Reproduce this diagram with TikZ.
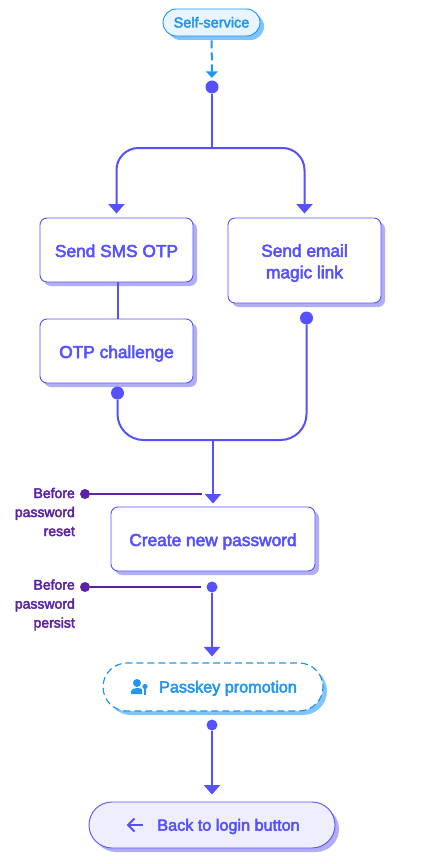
\documentclass[tikz,border=0pt]{standalone}
\usepackage{fontspec}
\setmainfont{Liberation Sans}[FakeBold=3]
\usepackage{xcolor}
\usetikzlibrary{arrows.meta,positioning,shadows,shapes.misc}
\definecolor{flowblue}{HTML}{5551FF}
\definecolor{flowshade}{HTML}{B1AFF3}
\definecolor{flowtint}{HTML}{EEEEFC}
\definecolor{skyblue}{HTML}{2196F3}
\definecolor{skyshade}{HTML}{7FC4FC}
\definecolor{skytint}{HTML}{E8F4FE}
\definecolor{hookpurple}{HTML}{5B21A6}
\newcommand{\lowered}[2]{\raisebox{-#1}[0pt][0pt]{#2}}

\begin{document}
\begin{tikzpicture}[
    x=1pt,y=-1pt,
    >={Triangle[width=16pt,length=9.5pt]},
    stepbox/.style={rectangle,draw=flowblue,fill=white,rounded corners=7pt,line width=0.9pt,
                    text=flowblue,align=center,font=\fontsize{17.3}{21.5}\selectfont,inner sep=0pt,
                    drop shadow={shadow xshift=4pt,shadow yshift=-4pt,opacity=1,fill=flowshade}},
    startpill/.style={rounded rectangle,draw=skyblue,fill=skytint,line width=0.9pt,text=skyblue,
                    font=\fontsize{14.5}{14}\selectfont,inner sep=0pt,minimum width=97pt,minimum height=27pt,
                    drop shadow={shadow xshift=4pt,shadow yshift=-4pt,opacity=1,fill=skyshade}},
    promopill/.style={rounded rectangle,draw=skyblue,fill=white,dash pattern=on 7pt off 4pt,
                    line width=1.2pt,text=skyblue,font=\fontsize{16.2}{18}\selectfont,inner sep=0pt,
                    minimum width=220pt,minimum height=48pt,
                    drop shadow={shadow xshift=4pt,shadow yshift=-4pt,opacity=1,fill=skyshade}},
    backpill/.style={rounded rectangle,draw=flowblue,fill=flowtint,line width=0.9pt,text=flowblue,
                    font=\fontsize{16.2}{18}\selectfont,inner sep=0pt,minimum width=246pt,minimum height=46pt,
                    drop shadow={shadow xshift=4pt,shadow yshift=-4pt,opacity=1,fill=flowshade}},
    bigdot/.style={circle,fill=flowblue,minimum size=13pt,inner sep=0pt},
    smalldot/.style={circle,fill=flowblue,minimum size=11pt,inner sep=0pt},
    hookdot/.style={circle,fill=hookpurple,minimum size=10pt,inner sep=0pt},
    hooklbl/.style={text=hookpurple,align=right,anchor=east,font=\fontsize{14}{19}\selectfont,inner sep=0pt},
    flow/.style={line width=2pt,flowblue},
    hook/.style={line width=2pt,hookpurple},
]
\useasboundingbox (0,0) rectangle (426,864);

% ---- start of the flow ----
\node[startpill] (selfService) at (211.5,22.5) {\lowered{5pt}{Self-service}};
\node[bigdot] (splitDot) at (212,87) {};
\coordinate (splitPt) at (212,148);
\draw[line width=2pt,skyblue,dash pattern=on 8pt off 4pt,->,shorten <=4pt,shorten >=2.5pt,
      >={Triangle[width=12pt,length=6.5pt]}] (selfService) -- (splitDot);

% ---- two ways to send the code ----
\node[stepbox,minimum width=153pt,minimum height=64pt] (sendSms) at (116.5,250) {\lowered{7pt}{Send SMS OTP}};
\node[stepbox,minimum width=153pt,minimum height=64pt] (otpChallenge) at (116.5,351) {\lowered{7pt}{OTP challenge}};
\node[stepbox,minimum width=153pt,minimum height=85pt] (sendEmail) at (304.5,260.5) {\lowered{7pt}{Send email}\\ \lowered{7pt}{magic link}};
\node[bigdot] (otpDot) at (117.5,393) {};
\node[bigdot] (emailDot) at (306.5,318) {};

\draw[flow] (splitDot) -- (splitPt);
\draw[flow,->,rounded corners=22pt,shorten >=4pt] (splitPt) -| (sendSms.north);
\draw[flow,->,rounded corners=22pt,shorten >=4pt] (splitPt) -| (sendEmail.north);
\draw[flow] ([xshift=1pt]sendSms.south) -- ([xshift=1pt]otpChallenge.north);

% ---- branches join again ----
\coordinate (joinLeft) at (117.5,440);
\coordinate (joinRight) at (306.5,440);
\coordinate (joinPt) at (213,440);
\draw[flow,rounded corners=26pt] (otpDot) -- (joinLeft) -- (joinRight) -- (emailDot);

\node[stepbox,minimum width=204pt,minimum height=64pt] (newPassword) at (213,539) {\lowered{7pt}{Create new password}};
\draw[flow,->,shorten >=3pt] (joinPt) -- (newPassword.north);

% ---- hooks ----
\node[hookdot] (resetDot) at (85,494) {};
\node[hookdot] (persistDot) at (85,587) {};
\coordinate (resetEnd) at (202,494);
\node[hooklbl] (resetLbl) at (75,512) {Before\\password\\reset};
\node[hooklbl] (persistLbl) at (75,605) {Before\\password\\persist};
\node[smalldot] (persistPt) at (212,587) {};
\draw[hook] (resetDot) -- (resetEnd);
\draw[hook,shorten >=5pt] (persistDot) -- (persistPt);

% ---- passkey + back button ----
\node[promopill] (passkey) at (213,687) {\hspace{30pt}\lowered{5.5pt}{Passkey promotion}};
\node[smalldot] (passkeyDot) at (212,725) {};
\node[backpill] (backLogin) at (212,825) {\hspace{33pt}\lowered{5.7pt}{Back to login button}};
\draw[flow,->,shorten >=6pt] (persistPt) -- (passkey.north -| persistPt);
\draw[flow,->,shorten >=7pt] (passkeyDot) -- (backLogin.north -| passkeyDot);

% icons
\fill[skyblue] (137,683) circle (4);
\fill[skyblue] (131,694) -- (131,691.5) .. controls (131,689) and (134,688) .. (137,688)
    .. controls (139,688) and (141,688.5) .. (142,689) -- (142,694) -- cycle;
\fill[skyblue] (145,686.5) circle (2.6);
\fill[skyblue] (144,688) rectangle (146,694.5);
\draw[line width=2pt,flowblue] (143,825) -- (128,825);
\draw[line width=2pt,flowblue] (134.5,818.5) -- (128,825) -- (134.5,831.5);

\end{tikzpicture}
\end{document}
